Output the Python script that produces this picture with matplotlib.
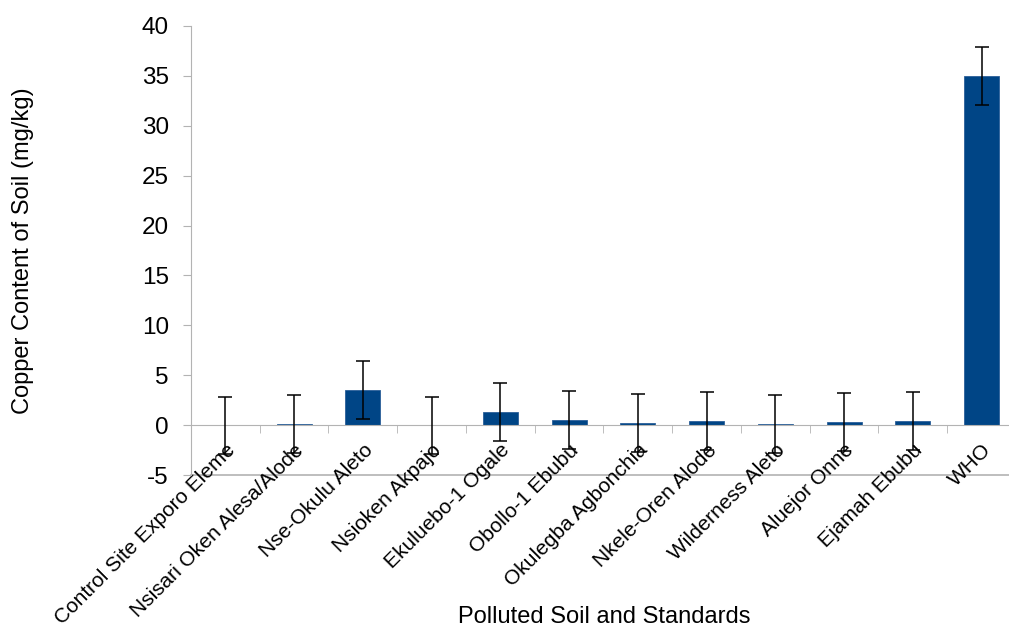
import numpy as np
import matplotlib
matplotlib.use('Agg')
from matplotlib import pyplot as plt
from matplotlib.ticker import FixedLocator

plt.rcParams['font.family'] = ['Liberation Sans', 'DejaVu Sans']
plt.rcParams['axes.unicode_minus'] = False

sites = ['Control Site Exporo Eleme', 'Nsisari Oken Alesa/Alode', 'Nse-Okulu Aleto',
         'Nsioken Akpajo', 'Ekuluebo-1 Ogale', 'Obollo-1 Ebubu', 'Okulegba Agbonchia',
         'Nkele-Oren Alode', 'Wilderness Aleto', 'Aluejor Onne', 'Ejamah Ebubu', 'WHO']
copper = [0.0, 0.1, 3.5, 0.0, 1.3, 0.5, 0.25, 0.4, 0.1, 0.3, 0.4, 35.0]
errors = [2.85, 2.9, 2.9, 2.85, 2.9, 2.9, 2.9, 2.9, 2.9, 2.9, 2.9, 2.9]

grey = '#b3b3b3'
x = np.arange(len(sites))

fig = plt.figure(figsize=(10.09, 6.28), dpi=100)
ax = fig.add_axes([0.1893, 0.2436, 0.8176, 0.715])

ax.bar(x, copper, width=0.51, color='#004586', edgecolor='#2b5f99', linewidth=0.6, zorder=2)
ax.errorbar(x, copper, yerr=errors, fmt='none', ecolor='black', elinewidth=1.1,
            capsize=5, capthick=1.1, zorder=3, clip_on=False)

ax.set_xlim(-0.5, len(sites) - 0.5)
ax.set_ylim(-5, 40)
ax.set_yticks(np.arange(-5, 41, 5))

# axis lines: left spine, x axis at zero, plot-area border at -5
for s in ['top', 'right']:
    ax.spines[s].set_visible(False)
ax.spines['left'].set_color(grey)
ax.spines['bottom'].set_color(grey)
ax.spines['bottom'].set_position(('data', 0))
ax.axhline(-5, color=grey, linewidth=1.2, zorder=1, clip_on=False)

ax.set_xticks(x)
ax.set_xticklabels(sites, rotation=45, ha='right', va='top', rotation_mode='anchor')
ax.xaxis.set_minor_locator(FixedLocator(np.arange(0.5, len(sites) - 0.5, 1)))
ax.tick_params(axis='x', which='major', length=0, pad=11, labelsize=15)
ax.tick_params(axis='x', which='minor', length=6, color=grey, direction='out')
ax.tick_params(axis='y', length=6, color=grey, direction='out', labelsize=17.5, pad=10)

ax.set_ylabel('Copper Content of Soil (mg/kg)', fontsize=17)
ax.yaxis.set_label_coords(-0.19, 0.5)
fig.text(0.599, 0.0175, 'Polluted Soil and Standards', fontsize=17, ha='center', va='center')

fig.savefig('out.png', dpi=100)
